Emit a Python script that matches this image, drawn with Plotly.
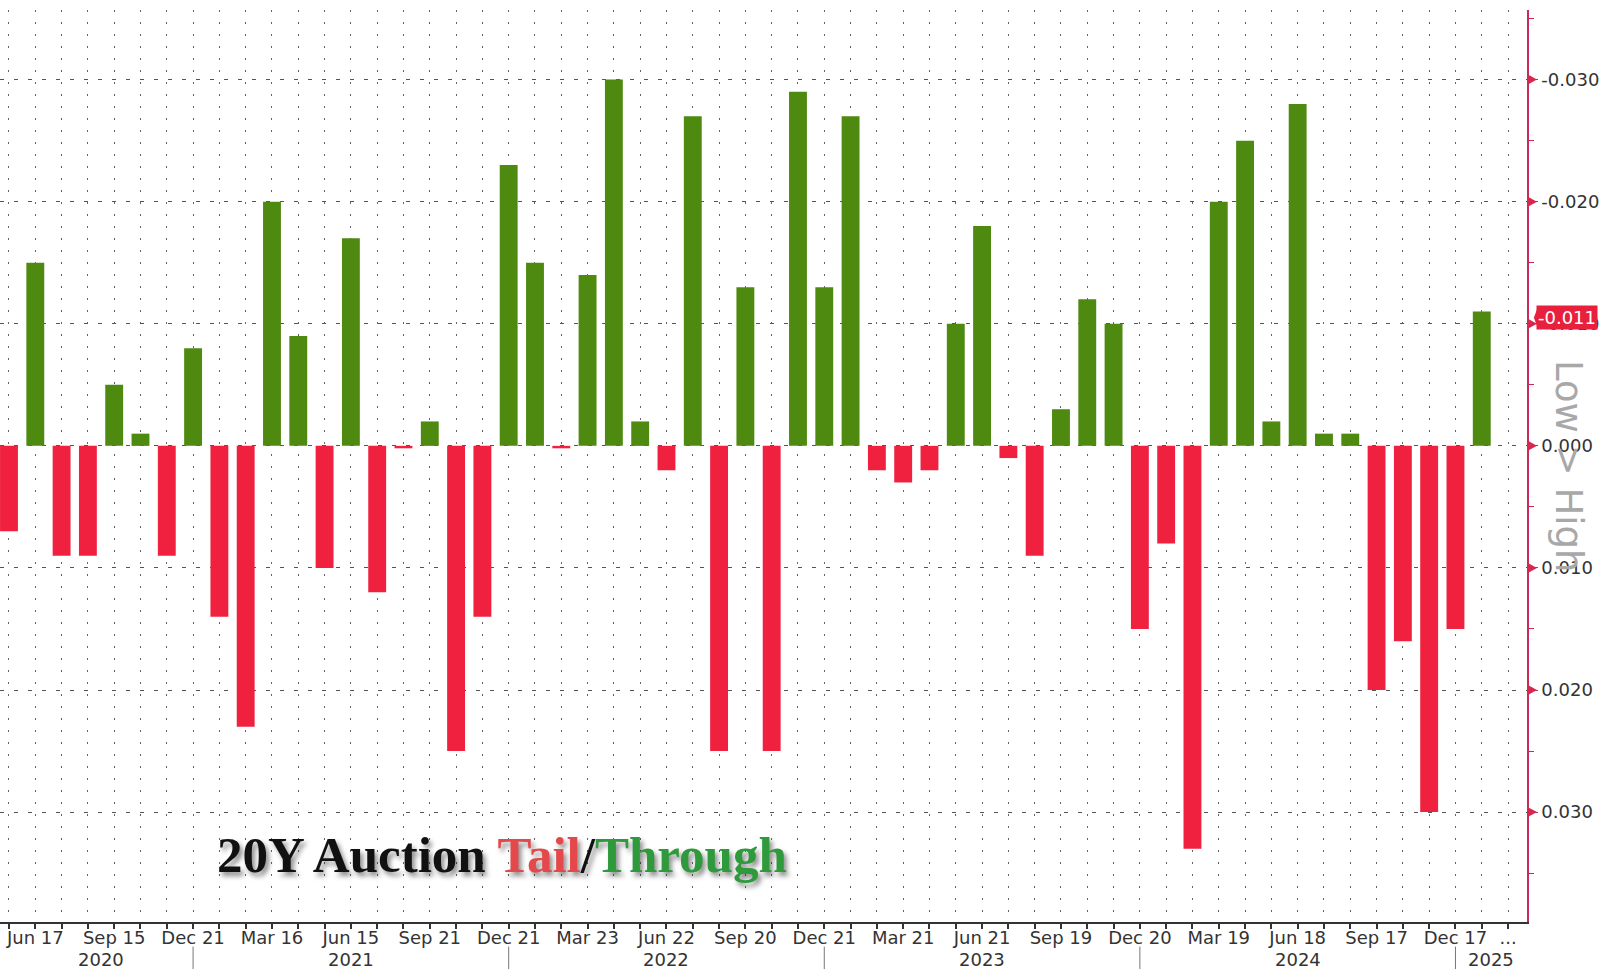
import plotly.graph_objects as go

months = ["2020-05","2020-06","2020-07","2020-08","2020-09","2020-10","2020-11","2020-12",
          "2021-01","2021-02","2021-03","2021-04","2021-05","2021-06","2021-07","2021-08",
          "2021-09","2021-10","2021-11","2021-12","2022-01","2022-02","2022-03","2022-04",
          "2022-05","2022-06","2022-07","2022-08","2022-09","2022-10","2022-11","2022-12",
          "2023-01","2023-02","2023-03","2023-04","2023-05","2023-06","2023-07","2023-08",
          "2023-09","2023-10","2023-11","2023-12","2024-01","2024-02","2024-03","2024-04",
          "2024-05","2024-06","2024-07","2024-08","2024-09","2024-10","2024-11","2024-12",
          "2025-01"]
# tail (+) / through (-) in percentage points
tail = [0.007,-0.015,0.009,0.009,-0.005,-0.001,0.009,-0.008,
        0.014,0.023,-0.020,-0.009,0.010,-0.017,0.012,0.0002,
        -0.002,0.025,0.014,-0.023,-0.015,0.0002,-0.014,-0.030,
        -0.002,0.002,-0.027,0.025,-0.013,0.025,-0.029,-0.013,
        -0.027,0.002,0.003,0.002,-0.010,-0.018,0.001,0.009,
        -0.003,-0.012,-0.010,0.015,0.008,0.033,-0.020,-0.025,
        -0.002,-0.028,-0.001,-0.001,0.020,0.016,0.030,0.015,
        -0.011]

tick_months = ["2020-06","2020-09","2020-12","2021-03","2021-06","2021-09","2021-12",
               "2022-03","2022-06","2022-09","2022-12","2023-03","2023-06","2023-09",
               "2023-12","2024-03","2024-06","2024-09","2024-12"]
tick_labels = ["Jun 17","Sep 15","Dec 21","Mar 16","Jun 15","Sep 21","Dec 21",
               "Mar 23","Jun 22","Sep 20","Dec 21","Mar 21","Jun 21","Sep 19",
               "Dec 20","Mar 19","Jun 18","Sep 17","Dec 17"]
years = ["2020","2021","2022","2023","2024","2025"]
year_breaks = ["2020-12","2021-12","2022-12","2023-12","2024-12"]
y_ticks = [-0.03,-0.02,-0.01,0.0,0.01,0.02,0.03]

RED = "#f0203f"
GREEN = "#4d8a0f"
AXRED = "#c92a5a"

idx = list(range(len(months)))
pos = {m: i for i, m in enumerate(months)}
colors = [RED if v > 0 else GREEN for v in tail]

fig = go.Figure()
fig.add_trace(go.Bar(x=idx, y=tail, marker=dict(color=colors, line=dict(width=0)),
                     width=0.68, showlegend=False))

n = len(months)
xr = [-0.342, n + 0.72]
tvals = [pos[m] for m in tick_months] + [n]
ttext = tick_labels + ["..."]

fig.update_xaxes(range=xr, tickmode="array", tickvals=tvals, ticktext=ttext,
                 showline=True, linecolor="#333", linewidth=2,
                 ticks="outside", ticklen=5, tickcolor="#333", tickwidth=1.5,
                 ticklabelstandoff=-7,
                 tickfont=dict(family="DejaVu Sans", size=18, color="#333"),
                 showgrid=True, gridcolor="#666", gridwidth=1, griddash="2px,10px",
                 zeroline=False,
                 minor=dict(tickmode="linear", tick0=0, dtick=1, ticks="outside", ticklen=5,
                            tickcolor="#333", showgrid=True, gridcolor="#666",
                            griddash="2px,10px", gridwidth=1))

yr = [0.039, -0.0357]
fig.update_yaxes(range=yr, side="right", tickmode="array", tickvals=y_ticks,
                 ticktext=["%.3f" % v for v in y_ticks],
                 showline=True, linecolor=AXRED, linewidth=1.5,
                 ticks="outside", ticklen=9, tickcolor=AXRED, tickwidth=1,
                 tickfont=dict(family="DejaVu Sans", size=18, color="#333"),
                 showgrid=True, gridcolor="#555", gridwidth=1, griddash="4px,10px",
                 zeroline=False,
                 minor=dict(tickmode="linear", tick0=0, dtick=0.005, ticks="outside",
                            ticklen=5, tickcolor=AXRED, showgrid=False))

shapes = []
# red triangles on major ticks
for v in y_ticks:
    shapes.append(dict(type="path", xref="paper", yref="y",
                       path=f"M 1.0,{v-0.00045} L 1.0065,{v} L 1.0,{v+0.00045} Z",
                       fillcolor="#d8264f", line=dict(width=0)))
# year separators
for m in year_breaks:
    p = pos[m]
    shapes.append(dict(type="line", xref="x", yref="paper", x0=p, x1=p, y0=-0.027, y1=-0.06,
                       line=dict(color="#777", width=1)))

annotations = []
bounds = [xr[0]] + [pos[m] for m in year_breaks] + [xr[1]]
for i, yv in enumerate(years):
    c = (max(bounds[i], 0) + bounds[i + 1]) / 2
    annotations.append(dict(x=c, y=-0.041, xref="x", yref="paper", text=yv, showarrow=False,
                            yanchor="middle", font=dict(family="DejaVu Sans", size=18, color="#333")))

last = tail[-1]
annotations.append(dict(x=1.0, y=last, xref="paper", yref="y", xanchor="left", yanchor="middle",
                        xshift=9, yshift=-6, text="%.3f" % last, showarrow=False,
                        bgcolor="#e8203e", borderpad=1,
                        font=dict(family="DejaVu Sans", size=18, color="white")))
shapes.append(dict(type="path", xref="paper", yref="y",
                   path=f"M 1.0045,{last+0.0005} L 1.0075,{last-0.0005} L 1.0075,{last+0.0015} Z",
                   fillcolor="#e8203e", line=dict(width=0)))

annotations.append(dict(x=1.0275, y=0.5, xref="paper", yref="paper", text="Low > High",
                        textangle=90, showarrow=False, xanchor="center", yanchor="middle",
                        font=dict(family="DejaVu Sans", size=37, color="#a8a8a8")))

annotations.append(dict(x=0.329, y=0.0735, xref="paper", yref="paper", showarrow=False,
                        xanchor="center", yanchor="middle",
                        text="<b>20Y Auction <span style='color:#e5484a'>Tail</span>/<span style='color:#2e9a3c'>Through</span></b>",
                        font=dict(family="Liberation Serif", size=51, color="#111",
                                  shadow="3px 4px 5px rgba(0,0,0,0.45)")))

fig.update_layout(width=1600, height=969, paper_bgcolor="white", plot_bgcolor="white",
                  margin=dict(l=0, r=73, t=10, b=47), bargap=0.3,
                  shapes=shapes, annotations=annotations, showlegend=False)

fig.write_html("out.html")
